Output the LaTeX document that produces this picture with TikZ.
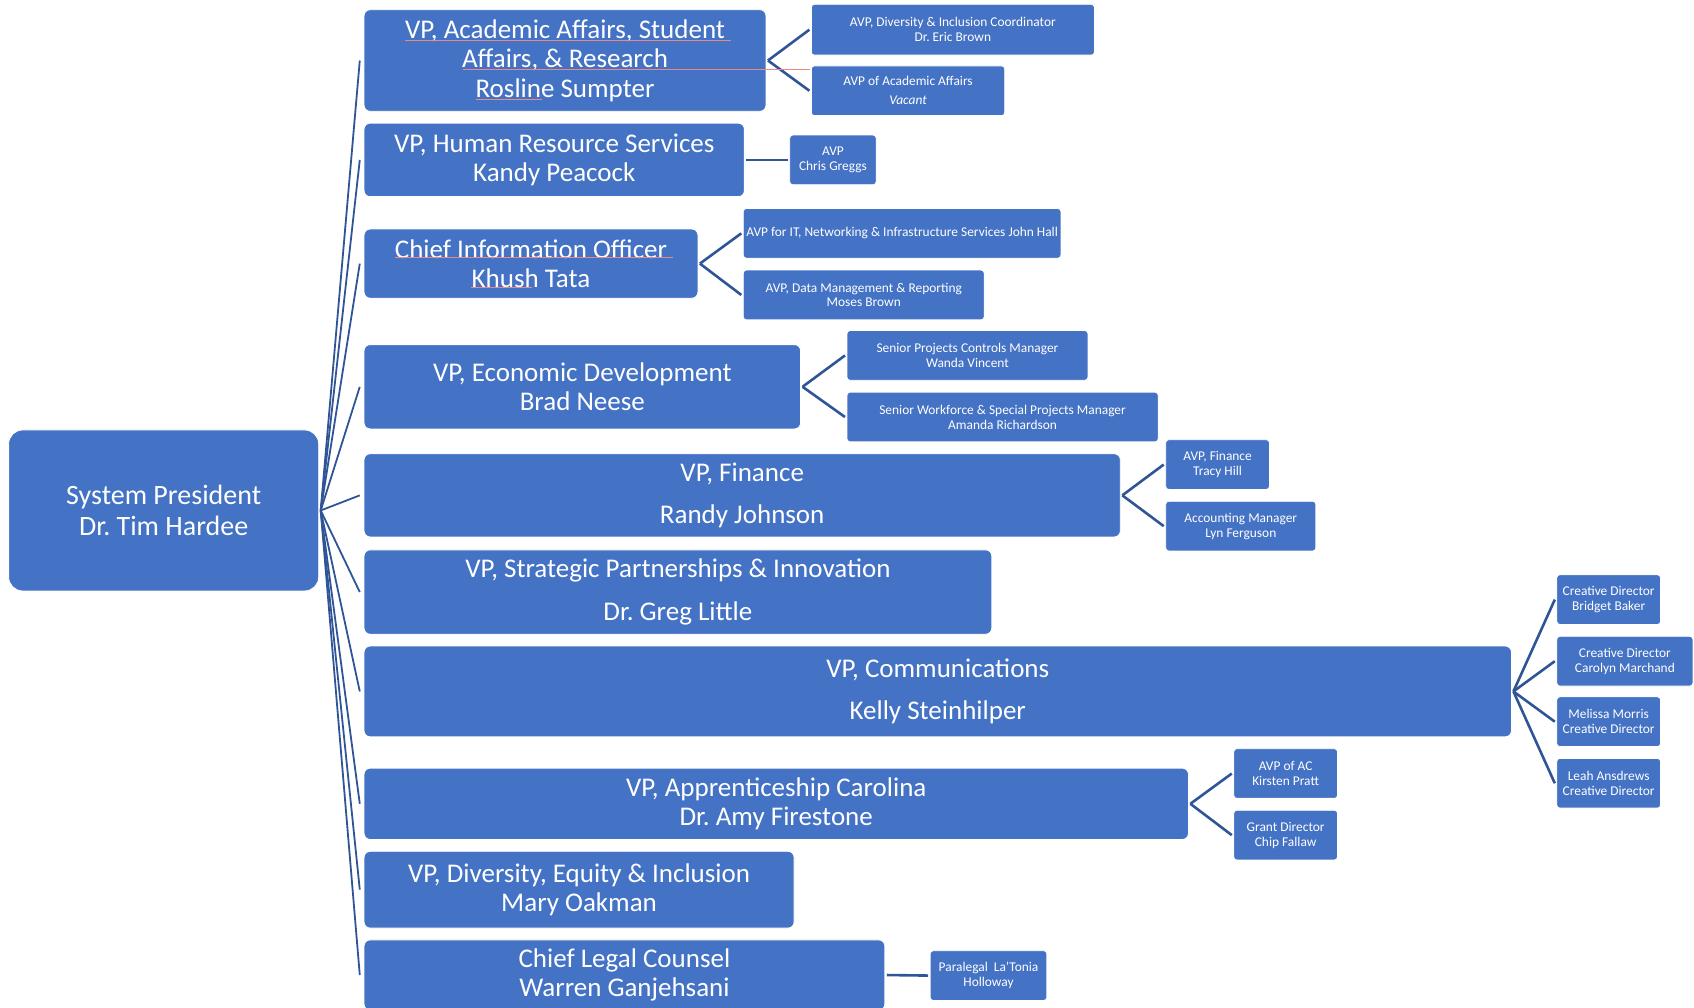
\documentclass[tikz,border=0pt]{standalone}
\usepackage{fontspec}
\setmainfont{Carlito}
\definecolor{boxblue}{HTML}{4472C4}
\definecolor{linkblue}{HTML}{2F5597}
\definecolor{spell}{HTML}{E88A8A}
\tikzset{
  base/.style={fill=boxblue, draw=white, line width=0.8pt, text=white, align=center, inner sep=0pt, outer sep=0pt},
  presbox/.style={base, rounded corners=14pt, font=\fontsize{28}{31.5}\selectfont},
  vpbox/.style={base, rounded corners=6pt, font=\fontsize{27}{29.5}\selectfont},
  vpwide/.style={base, rounded corners=6pt, font=\fontsize{27}{42.5}\selectfont},
  subbox/.style={base, rounded corners=3pt, font=\fontsize{13.4}{14.8}\selectfont},
  hubline/.style={draw=linkblue, line width=1.8pt},
  subline/.style={draw=linkblue, line width=2.6pt},
  spellline/.style={draw=spell, line width=0.6pt},
}
\newcommand\bx[7]{%
  \node[#2, minimum width={1.0804pt*(#5-#3)}, minimum height={1.0804pt*(#6-#4)}] (#1) at ({(#3+#5)/2},{(#4+#6)/2}) {#7};}
\begin{document}
\frenchspacing
\begin{tikzpicture}[x=1.0804pt, y=-1.0804pt]
\useasboundingbox (0,0) rectangle (1568,933);
% President
\bx{pres}{presbox}{8}{398}{295}{547}{System President\\Dr. Tim Hardee}
% VPs
\bx{acad}{vpbox}{337}{9}{709}{103}{VP, Academic Affairs, Student\\Affairs, \& Research\\Rosline Sumpter}
\bx{hr}{vpbox}{337}{114}{689}{182}{VP, Human Resource Services\\Kandy Peacock}
\bx{cio}{vpbox}{337}{212}{646}{276}{Chief Information Officer\\Khush Tata}
\bx{econ}{vpbox}{337}{319}{741}{397}{VP, Economic Development\\Brad Neese}
\bx{fin}{vpwide}{337}{420}{1037}{497}{VP, Finance\\Randy Johnson}
\bx{strat}{vpwide}{337}{509}{918}{587}{VP, Strategic Partnerships \& Innovation\\Dr. Greg Little}
\bx{comm}{vpwide}{337}{598}{1399}{682}{VP, Communications\\Kelly Steinhilper}
\bx{appr}{vpbox}{337}{711}{1100}{777}{VP, Apprenticeship Carolina\\Dr. Amy Firestone}
\bx{dei}{vpbox}{337}{788}{735}{859}{VP, Diversity, Equity \& Inclusion\\Mary Oakman}
\bx{legal}{vpbox}{337}{870}{819}{935}{Chief Legal Counsel\\Warren Ganjehsani}
% Sub boxes
\bx{a1}{subbox}{751}{4}{1013}{51}{AVP, Diversity \& Inclusion Coordinator\\Dr. Eric Brown}
\bx{a2}{subbox}{751}{61}{930}{107}{AVP of Academic Affairs\\[4pt]\textit{Vacant}}
\bx{h1}{subbox}{731}{125}{811}{171}{AVP\\Chris Greggs}
\bx{c1}{subbox}{688}{193}{982}{239}{AVP for IT, Networking \& Infrastructure Services John Hall}
\bx{c2}{subbox}{688}{250}{911}{296}{AVP, Data Management \& Reporting\\Moses Brown}
\bx{e1}{subbox}{784}{306}{1007}{352}{Senior Projects Controls Manager\\Wanda Vincent}
\bx{e2}{subbox}{784}{363}{1072}{409}{Senior Workforce \& Special Projects Manager\\Amanda Richardson}
\bx{f1}{subbox}{1079}{407}{1175}{453}{AVP, Finance\\Tracy Hill}
\bx{f2}{subbox}{1079}{464}{1218}{510}{Accounting Manager\\Lyn Ferguson}
\bx{k1}{subbox}{1441}{532}{1537}{578}{Creative Director\\Bridget Baker}
\bx{k2}{subbox}{1441}{589}{1567}{635}{Creative Director\\Carolyn Marchand}
\bx{k3}{subbox}{1441}{645}{1537}{691}{Melissa Morris\\Creative Director}
\bx{k4}{subbox}{1441}{702}{1537}{748}{Leah Ansdrews\\Creative Director}
\bx{p1}{subbox}{1142}{693}{1238}{739}{AVP of AC\\Kirsten Pratt}
\bx{p2}{subbox}{1142}{750}{1238}{796}{Grant Director\\Chip Fallaw}
\bx{l1}{subbox}{861}{880}{969}{926}{Paralegal\ \ La'Tonia\\Holloway}
% Hub connectors
\foreach \v in {acad,hr,cio,econ,fin,strat,comm,appr,dei,legal}
  \draw[hubline] ([xshift=2pt]pres.east) -- ([xshift=-4.3pt]\v.west);
% Sub connectors
\foreach \p/\c in {acad/a1,acad/a2,hr/h1,cio/c1,cio/c2,econ/e1,econ/e2,fin/f1,fin/f2,comm/k1,comm/k2,comm/k3,comm/k4,appr/p1,appr/p2,legal/l1}
  \draw[subline] ([xshift=2pt]\p.east) -- ([xshift=-2pt]\c.west);
% spell-check underlines
\draw[spellline] (375,37) -- (677,37);
\draw[spellline] (429,64) -- (750,64);
\draw[spellline] (441,92) -- (502,92);
\draw[spellline] (366,238) -- (623,238);
\draw[spellline] (436,266) -- (492,266);
\end{tikzpicture}
\end{document}
